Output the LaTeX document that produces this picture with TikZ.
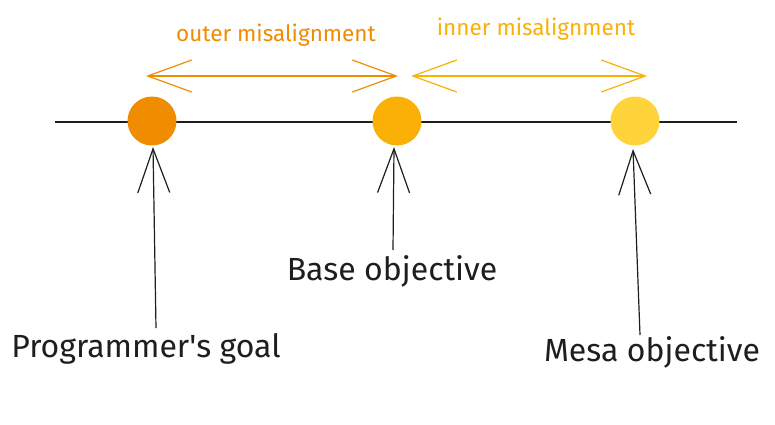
\documentclass[tikz,border=0pt]{standalone}
\usepackage{fontspec}
\setmainfont{Fira Sans}
\usetikzlibrary{arrows.meta}
\definecolor{ink}{HTML}{1E1E1E}
\definecolor{c1col}{HTML}{F08C00}
\definecolor{c2col}{HTML}{FAB005}
\definecolor{c3col}{HTML}{FFD43B}
\tikzset{
  dot/.style={circle,minimum size=49pt,inner sep=0pt,fill=#1},
  lbl/.style={font=\fontsize{32}{36}\selectfont,text=ink,inner sep=0pt},
  toplbl/.style={font=\fontsize{22.5}{26}\selectfont,text=#1,inner sep=0pt},
  uparr/.style={draw=ink,line width=1.2pt,-{Straight Barb[length=44pt,width=32pt,line width=1.2pt]}},
  dblarr/.style={draw=#1,line width=1.2pt,{Straight Barb[length=44pt,width=32pt,line width=1.2pt]}-{Straight Barb[length=44pt,width=32pt,line width=1.2pt]}},
  axis/.style={draw=ink,line width=1.2pt}
}
\begin{document}
\begin{tikzpicture}[x=1pt,y=-1pt]
\useasboundingbox[fill=white] (0,0) rectangle (775,424);
\coordinate (a0) at (55,122);
\coordinate (a1) at (737,122);
\draw[axis] (a0) -- (a1);
\node[dot=c1col] (c1) at (152,121) {};
\node[dot=c2col] (c2) at (397,121) {};
\node[dot=c3col] (c3) at (635,121) {};
% top arrows
\coordinate (o0) at (146,76);
\coordinate (o1) at (398,76);
\coordinate (i0) at (411,76);
\coordinate (i1) at (647,76);
\draw[dblarr=c1col] (o0) -- (o1);
\draw[dblarr=c2col] (i0) -- (i1);
\node[toplbl=c1col] (tout) at (276,35) {outer misalignment};
\node[toplbl=c2col] (tin) at (536,29) {inner misalignment};
% labels
\node[lbl] (l1) at (146,349) {Programmer\textquotesingle s goal};
\node[lbl] (l2) at (392,271) {Base objective};
\node[lbl] (l3) at (652,352) {Mesa objective};
\coordinate (s1) at (156,328);
\coordinate (s2) at (393,250);
\coordinate (s3) at (640,335);
\coordinate (t1) at (153,147);
\coordinate (t2) at (394,147);
\coordinate (t3) at (633,149);
\draw[uparr] (s1) -- (t1);
\draw[uparr] (s2) -- (t2);
\draw[uparr] (s3) -- (t3);
\end{tikzpicture}
\end{document}
